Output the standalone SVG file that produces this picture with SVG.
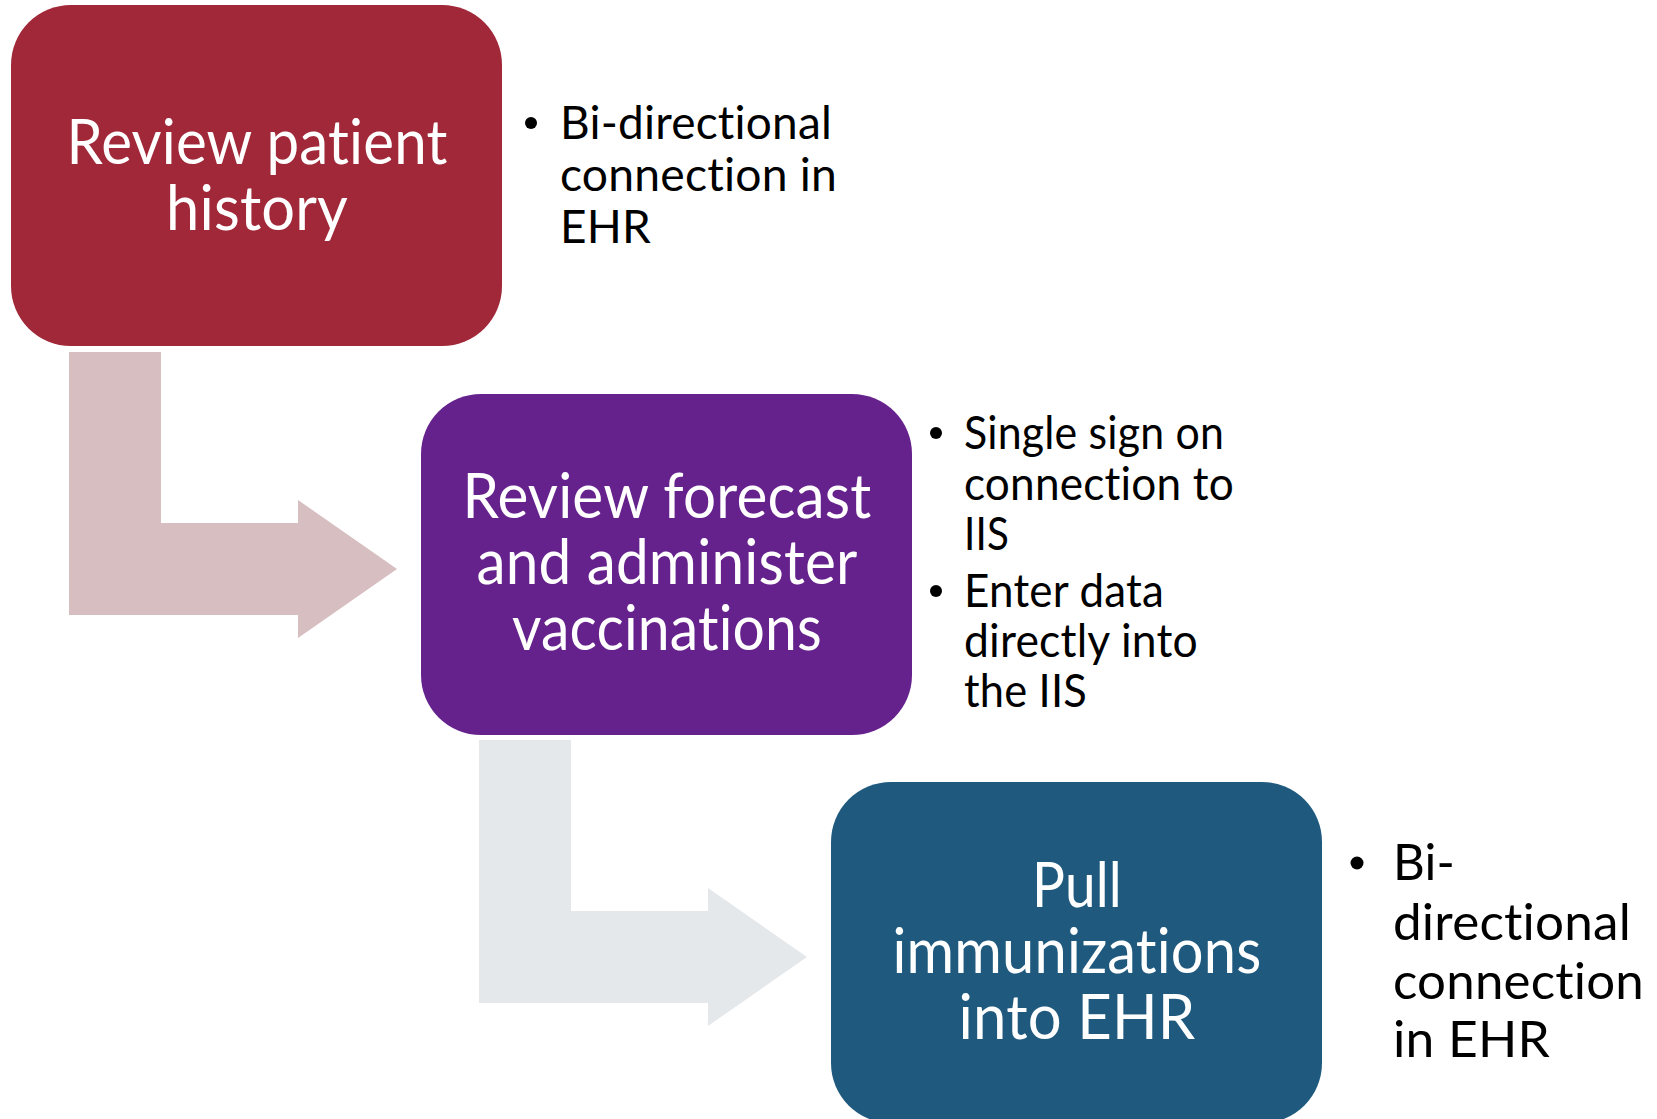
<svg xmlns="http://www.w3.org/2000/svg" width="1657" height="1119" viewBox="0 0 1657 1119">
<style>
.bt{font-family:Lato,"Open Sans","Liberation Sans",sans-serif;fill:#ffffff;font-size:62px;text-anchor:middle;font-variant-ligatures:none;font-feature-settings:"liga" 0,"clig" 0,"dlig" 0;letter-spacing:0.2px}
.tx{font-family:Lato,"Open Sans","Liberation Sans",sans-serif;fill:#000000;font-size:47px;font-variant-ligatures:none;font-feature-settings:"liga" 0,"clig" 0,"dlig" 0;letter-spacing:0.2px}
.tx3{font-family:Lato,"Open Sans","Liberation Sans",sans-serif;fill:#000000;font-size:51px;font-variant-ligatures:none;font-feature-settings:"liga" 0,"clig" 0,"dlig" 0;letter-spacing:0.2px}
.dot{fill:#000000}
</style>
<rect width="1657" height="1119" fill="#ffffff"/>
<g id="connectors">
  <path id="arrow1" d="M69,352 H161 V523 H298 V500 L397,569 L298,638 V615 H69 Z" fill="#D7BEC0"/>
  <path id="arrow2" d="M479,740 H571 V911 H708 V888 L807,957 L708,1026 V1003 H479 Z" fill="#E5E8EB"/>
</g>
<g id="node1">
  <rect x="11" y="5" width="491" height="341" rx="60" ry="60" fill="#A02838"/>
  <text class="bt" x="257" y="164" textLength="381" lengthAdjust="spacingAndGlyphs">Review patient</text>
  <text class="bt" x="257" y="230" textLength="182" lengthAdjust="spacingAndGlyphs">history</text>
</g>
<g id="node1-notes">
  <circle class="dot" cx="531" cy="123" r="6"/>
  <text class="tx" x="560" y="139" textLength="272" lengthAdjust="spacingAndGlyphs">Bi-directional</text>
  <text class="tx" x="560" y="191" textLength="277" lengthAdjust="spacingAndGlyphs">connection in</text>
  <text class="tx" x="560" y="243" textLength="91" lengthAdjust="spacingAndGlyphs">EHR</text>
</g>
<g id="node2">
  <rect x="421" y="394" width="491" height="341" rx="60" ry="60" fill="#66228C"/>
  <text class="bt" x="667" y="518" textLength="409" lengthAdjust="spacingAndGlyphs">Review forecast</text>
  <text class="bt" x="667" y="584" textLength="381" lengthAdjust="spacingAndGlyphs">and administer</text>
  <text class="bt" x="667" y="650" textLength="310" lengthAdjust="spacingAndGlyphs">vaccinations</text>
</g>
<g id="node2-notes">
  <circle class="dot" cx="936" cy="433" r="6"/>
  <text class="tx" x="964" y="449" textLength="260" lengthAdjust="spacingAndGlyphs">Single sign on</text>
  <text class="tx" x="964" y="500" textLength="270" lengthAdjust="spacingAndGlyphs">connection to</text>
  <text class="tx" x="964" y="550" textLength="45" lengthAdjust="spacingAndGlyphs">IIS</text>
  <circle class="dot" cx="936" cy="591" r="6"/>
  <text class="tx" x="964" y="607" textLength="200" lengthAdjust="spacingAndGlyphs">Enter data</text>
  <text class="tx" x="964" y="657" textLength="234" lengthAdjust="spacingAndGlyphs">directly into</text>
  <text class="tx" x="964" y="707" textLength="123" lengthAdjust="spacingAndGlyphs">the IIS</text>
</g>
<g id="node3">
  <rect x="831" y="782" width="491" height="341" rx="60" ry="60" fill="#1F5A7E"/>
  <text class="bt" x="1077" y="907" textLength="90" lengthAdjust="spacingAndGlyphs">Pull</text>
  <text class="bt" x="1077" y="973" textLength="369" lengthAdjust="spacingAndGlyphs">immunizations</text>
  <text class="bt" x="1077" y="1039" textLength="237" lengthAdjust="spacingAndGlyphs">into EHR</text>
</g>
<g id="node3-notes">
  <circle class="dot" cx="1357" cy="863" r="6.5"/>
  <text class="tx3" x="1393" y="880" textLength="62" lengthAdjust="spacingAndGlyphs">Bi-</text>
  <text class="tx3" x="1393" y="940" textLength="238" lengthAdjust="spacingAndGlyphs">directional</text>
  <text class="tx3" x="1393" y="999" textLength="251" lengthAdjust="spacingAndGlyphs">connection</text>
  <text class="tx3" x="1393" y="1057" textLength="157" lengthAdjust="spacingAndGlyphs">in EHR</text>
</g>
</svg>
